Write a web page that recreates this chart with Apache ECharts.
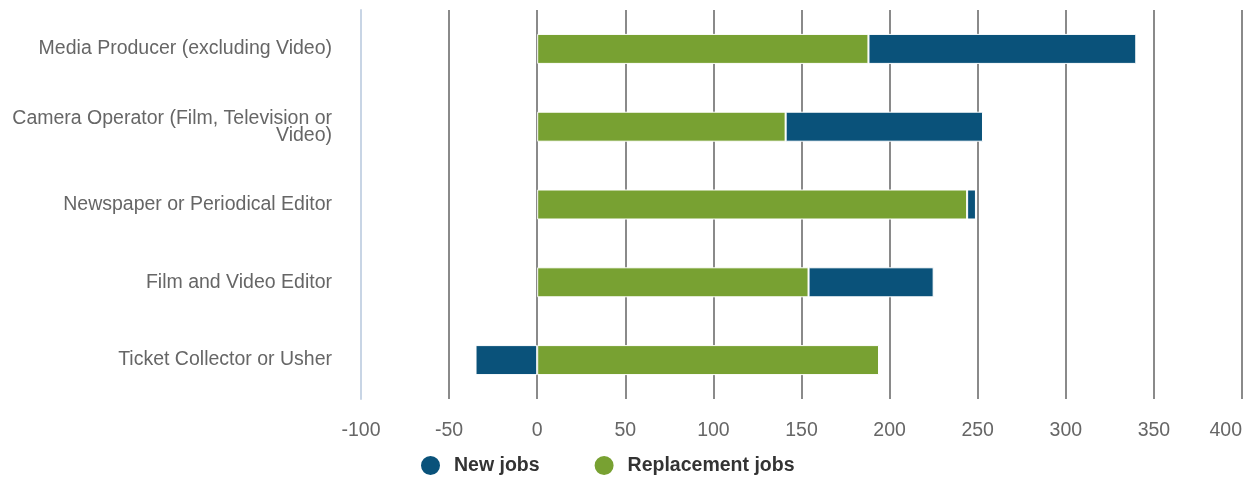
<!DOCTYPE html>
<html>
<head>
<meta charset="utf-8">
<script src="https://cdn.jsdelivr.net/npm/echarts@6/dist/echarts.min.js"></script>
<style>
html,body{margin:0;padding:0;background:#fff;}
#chart{width:1245px;height:477px;}
</style>
</head>
<body>
<div id="chart"></div>
<script>
const categories = [
  "Media Producer (excluding Video)",
  "Camera Operator (Film, Television or Video)",
  "Newspaper or Periodical Editor",
  "Film and Video Editor",
  "Ticket Collector or Usher"
];
const replacementJobs = [188, 141, 244, 154, 194];
const newJobs = [152, 112, 5, 71, -35];
const xTicks = { min: -100, max: 400, interval: 50 };

function wrap(s, maxChars) {
  const words = s.split(' ');
  const lines = [];
  let cur = '';
  for (const w of words) {
    if (cur && (cur + ' ' + w).length > maxChars) { lines.push(cur); cur = w; }
    else cur = cur ? cur + ' ' + w : w;
  }
  if (cur) lines.push(cur);
  return lines.join('\n');
}

const chart = echarts.init(document.getElementById('chart'), null, { renderer: 'canvas' });
const FONT = '"Liberation Sans", Arial, Helvetica, sans-serif';
chart.setOption({
  animation: false,
  backgroundColor: '#ffffff',
  grid: { left: 361, right: 3, top: 10, bottom: 78, containLabel: false },
  legend: {
    data: ['New jobs', 'Replacement jobs'],
    left: 414,
    top: 449,
    icon: 'circle',
    itemWidth: 21,
    itemHeight: 21,
    itemGap: 53,
    textStyle: { fontFamily: FONT, fontSize: 19.5, fontWeight: 'bold', color: '#333333', padding: [0, 0, 0, 8] }
  },
  xAxis: {
    type: 'value',
    min: xTicks.min,
    max: xTicks.max,
    interval: xTicks.interval,
    axisLine: { show: false },
    axisTick: { show: false },
    axisLabel: {
      fontFamily: FONT, fontSize: 19.5, color: '#666666', margin: 22,
      alignMaxLabel: 'right'
    },
    splitLine: { show: true, showMinLine: false, lineStyle: { color: '#8a8a8a', width: 2 } }
  },
  yAxis: {
    type: 'category',
    data: categories,
    inverse: true,
    z: 5,
    axisLine: { show: true, onZero: false, lineStyle: { color: '#c8d5e5', width: 2 } },
    axisTick: { show: false },
    axisLabel: {
      fontFamily: FONT, fontSize: 19.5, color: '#666666', margin: 29, lineHeight: 17,
      padding: [0, 0, 5, 0],
      formatter: v => wrap(v, 36)
    }
  },
  series: [
    {
      name: 'Replacement jobs', type: 'bar', stack: 'jobs', data: replacementJobs,
      barWidth: 30,
      itemStyle: { color: '#78a132', borderColor: '#ffffff', borderWidth: 1 }
    },
    {
      name: 'New jobs', type: 'bar', stack: 'jobs', data: newJobs,
      barWidth: 30,
      itemStyle: { color: '#0a527a', borderColor: '#ffffff', borderWidth: 1 }
    }
  ]
});
</script>
</body>
</html>
